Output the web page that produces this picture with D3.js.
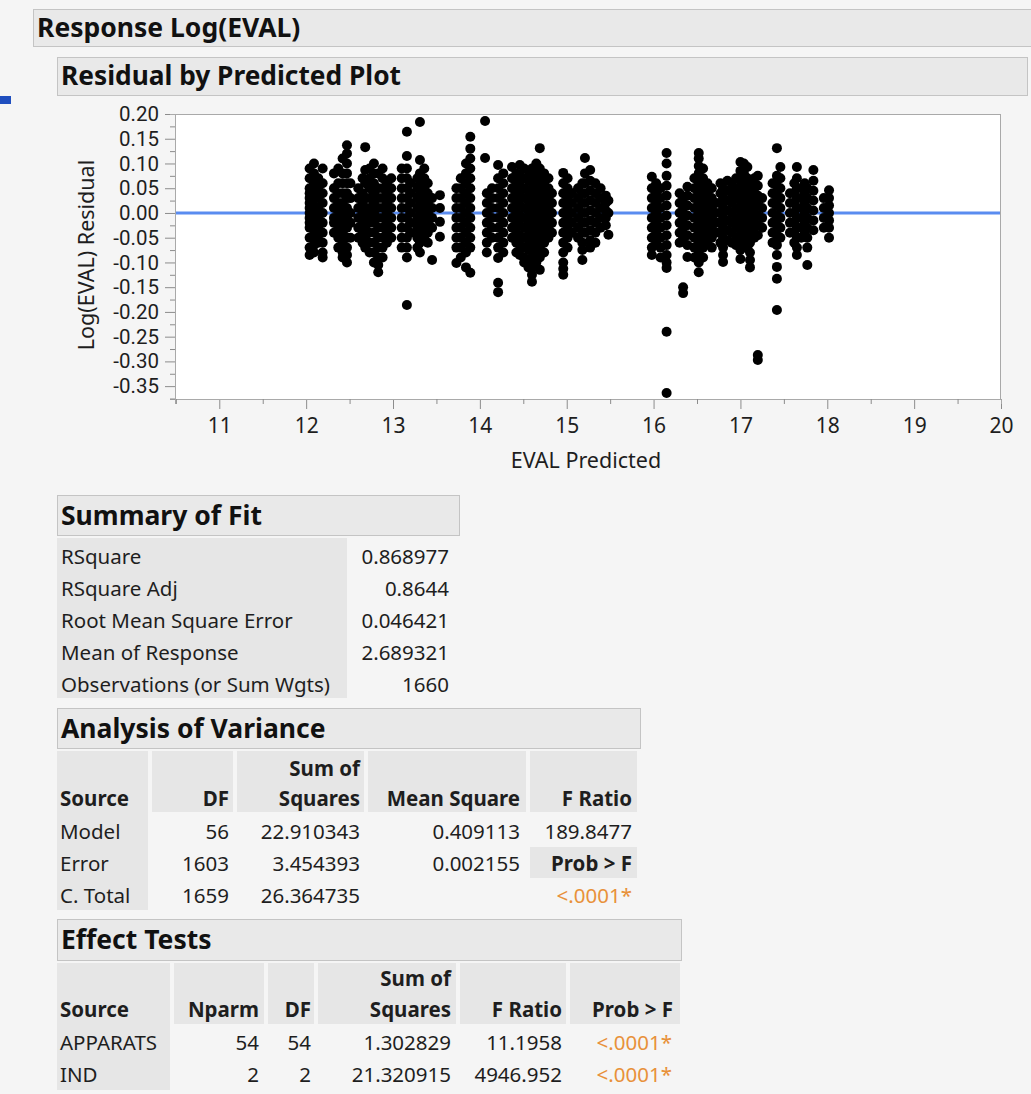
<!DOCTYPE html>
<html>
<head>
<meta charset="utf-8">
<script src="https://cdn.jsdelivr.net/npm/d3@7"></script>
<style>
  body { margin: 0; background: #f5f5f5; }
  svg { display: block; font-family: "Noto Sans", "Open Sans", sans-serif; }
</style>
</head>
<body>
<div id="report"></div>
<script>
// axis ticks
var xTicks = [11, 12, 13, 14, 15, 16, 17, 18, 19, 20];
var yTicks = [0.20, 0.15, 0.10, 0.05, 0.00, -0.05, -0.10, -0.15, -0.20, -0.25, -0.30, -0.35];

// residual strips: [predicted EVAL, residuals at that predicted value]
var strips = [
  [12.04, [.09,.07,.05,.04,.03,.02,.01,0,-.01,-.02,-.03,-.05,-.07,-.085]],
  [12.09, [.10,.08,.06,.045,.03,.015,.005,-.005,-.02,-.035,-.05,-.065,-.08]],
  [12.14, [.07,.05,.03,.01,-.01,-.03,-.045,-.06]],
  [12.19, [.09,.06,.04,.02,0,-.02,-.04,-.06,-.08,-.09]],
  [12.32, [.08,.05,.03,.01,-.01,-.02,-.04]],
  [12.37, [.09,.06,.04,.02,.005,-.01,-.03,-.05,-.07]],
  [12.42, [.11,.08,.06,.04,.02,0,-.02,-.04,-.06,-.08,-.09]],
  [12.47, [.137,.12,.10,.08,.06,.04,.03,.01,-.01,-.03,-.05,-.07,-.085,-.10]],
  [12.51, [.06,.03,0,-.02,-.05]],
  [12.60, [.05,.03,.01,-.01,-.03,-.05]],
  [12.65, [.07,.04,.02,0,-.02,-.04,-.06]],
  [12.68, [.133,.087,.06,.03,.01,-.01,-.03,-.05,-.07]],
  [12.73, [.09,.07,.05,.03,.01,-.005,-.02,-.04,-.06,-.08]],
  [12.78, [.10,.08,.06,.04,.02,0,-.02,-.04,-.06,-.08,-.10]],
  [12.83, [.08,.05,.03,.01,-.01,-.03,-.05,-.07,-.09,-.105,-.12]],
  [12.88, [.09,.07,.05,.03,.01,-.01,-.03,-.05,-.07,-.09]],
  [12.93, [.06,.04,.02,0,-.02,-.04,-.06]],
  [12.98, [.07,.05,.03,.01,-.01,-.03,-.05]],
  [13.10, [.09,.07,.05,.03,.01,-.01,-.03,-.05,-.07]],
  [13.16, [.164,.115,.09,.07,.05,.03,.01,-.01,-.03,-.05,-.07,-.09,-.186]],
  [13.20, [.06,.04,.02,0,-.02,-.04]],
  [13.28, [.07,.05,.03,.01,-.01,-.03,-.05,-.07]],
  [13.31, [.184,.107,.08,.06,.04,.02,0,-.02,-.04,-.06,-.08]],
  [13.36, [.09,.07,.05,.03,.01,-.01,-.03,-.05]],
  [13.40, [.06,.04,.02,0,-.02,-.04,-.06]],
  [13.45, [.03,.01,-.01,-.03,-.095]],
  [13.54, [.036,.01,-.018,-.048]],
  [13.73, [.05,.03,.01,-.01,-.03,-.05,-.07,-.101]],
  [13.78, [.07,.05,.03,.01,-.01,-.03,-.05,-.07,-.09]],
  [13.84, [.10,.08,.06,.04,.02,0,-.02,-.04,-.06,-.08,-.11]],
  [13.89, [.154,.13,.11,.09,.07,.05,.03,.01,-.01,-.03,-.05,-.07,-.121]],
  [14.06, [.186,.111]],
  [14.08, [.04,.02,0,-.02,-.04,-.06,-.08]],
  [14.14, [.05,.03,.01,-.01,-.03,-.05]],
  [14.21, [.097,.07,.05,.03,.01,-.01,-.03,-.05,-.07,-.091,-.141,-.16]],
  [14.27, [.08,.06,.04,.02,0,-.02,-.04,-.06,-.08]],
  [14.37, [.093,.07,.05,.03,.01,-.01,-.03,-.05]],
  [14.42, [.08,.06,.04,.02,0,-.02,-.04,-.06,-.08]],
  [14.46, [.097,.075,.055,.035,.015,-.005,-.025,-.045,-.065,-.085]],
  [14.51, [.09,.07,.05,.03,.01,-.01,-.03,-.05,-.07,-.09,-.10]],
  [14.56, [.085,.065,.045,.025,.005,-.015,-.035,-.055,-.075,-.095,-.11]],
  [14.60, [.09,.07,.05,.03,.01,-.01,-.03,-.05,-.07,-.09,-.11,-.125,-.139]],
  [14.65, [.10,.08,.06,.04,.02,0,-.02,-.04,-.06,-.08,-.10]],
  [14.69, [.131,.09,.07,.05,.03,.01,-.01,-.03,-.05,-.07,-.09,-.115]],
  [14.74, [.08,.06,.04,.02,0,-.02,-.04,-.06,-.08]],
  [14.79, [.07,.05,.03,.01,-.01,-.03,-.05]],
  [14.83, [.04,.02,0,-.02,-.04]],
  [14.96, [.081,.06,.04,.02,0,-.02,-.04,-.06,-.08,-.10,-.113,-.125]],
  [15.01, [.07,.05,.03,.01,-.01,-.03,-.05,-.07]],
  [15.06, [.04,.02,0,-.02,-.04]],
  [15.13, [.05,.03,.01,-.01,-.03,-.05]],
  [15.18, [.06,.04,.02,0,-.02,-.04,-.06,-.075,-.095]],
  [15.21, [.111,.08,.06,.04,.02,0,-.02,-.04]],
  [15.27, [.087,.065,.045,.025,.005,-.015,-.035,-.055,-.07]],
  [15.33, [.06,.04,.02,0,-.02,-.04,-.06]],
  [15.39, [.05,.03,.01,-.01,-.03]],
  [15.45, [.035,.02,.005,-.01,-.025]],
  [15.48, [.025,0,-.044]],
  [15.98, [.073,.05,.03,.01,-.01,-.03,-.05,-.07,-.085]],
  [16.03, [.06,.04,.02,0,-.02,-.04,-.06]],
  [16.08, [.05,.03,.01,-.01,-.03,-.05,-.07,-.09]],
  [16.15, [.121,.10,.075,.055,.035,.015,-.005,-.025,-.045,-.065,-.085,-.10,-.111,-.24,-.364]],
  [16.30, [.04,.02,0,-.02,-.04,-.06]],
  [16.34, [.03,.01,-.01,-.03,-.05,-.15,-.162]],
  [16.39, [.053,.035,.015,-.005,-.025,-.045,-.065,-.089]],
  [16.47, [.07,.05,.03,.01,-.01,-.03,-.05,-.07,-.09]],
  [16.52, [.121,.11,.095,.08,.06,.04,.02,0,-.02,-.04,-.06,-.08,-.10,-.12]],
  [16.57, [.09,.07,.05,.03,.01,-.01,-.03,-.05,-.07,-.09]],
  [16.62, [.06,.04,.02,0,-.02,-.04,-.06]],
  [16.67, [.05,.03,.01,-.01,-.03,-.05,-.07]],
  [16.72, [.02,0,-.02,-.04]],
  [16.77, [.06,.04,.02,0,-.02,-.04,-.06]],
  [16.80, [.05,.03,.01,-.01,-.03,-.05,-.07,-.085,-.099]],
  [16.85, [.065,.045,.025,.005,-.015,-.035,-.055]],
  [16.90, [.06,.04,.02,0,-.02,-.04,-.06]],
  [16.95, [.07,.05,.03,.01,-.01,-.03,-.05,-.065]],
  [17.00, [.103,.085,.065,.045,.025,.005,-.015,-.035,-.055,-.075,-.093]],
  [17.04, [.10,.08,.06,.04,.02,0,-.02,-.04,-.06]],
  [17.08, [.093,.07,.05,.03,.01,-.01,-.03,-.05,-.07]],
  [17.11, [.06,.04,.02,0,-.02,-.04,-.06,-.08,-.095,-.11]],
  [17.16, [.07,.05,.03,.01,-.01,-.03,-.05]],
  [17.20, [.075,.055,.035,.015,-.005,-.025,-.045,-.287,-.297]],
  [17.25, [.03,.01,-.01,-.03]],
  [17.37, [.06,.04,.02,0,-.02,-.04,-.06]],
  [17.42, [.131,.075,.055,.035,.015,-.005,-.025,-.045,-.065,-.085,-.109,-.133,-.196]],
  [17.46, [.093,.07,.05,.03,.01,-.01,-.03,-.05]],
  [17.57, [.04,.02,0,-.02,-.04]],
  [17.62, [.06,.04,.02,0,-.02,-.04,-.06]],
  [17.65, [.093,.07,.05,.03,.01,-.01,-.03,-.05,-.07,-.085]],
  [17.70, [.05,.03,.01,-.01,-.03,-.05]],
  [17.74, [.06,.04,.02,0,-.02,-.04]],
  [17.77, [.05,.03,.01,-.01,-.03,-.05,-.07,-.105]],
  [17.84, [.087,.065,.045,.025,.005,-.015,-.035]],
  [17.96, [.03,.01,-.01,-.03]],
  [18.02, [.046,.03,.015,0,-.015,-.03,-.05]]
];

// Summary of Fit
var summaryLabels = ["RSquare", "RSquare Adj", "Root Mean Square Error", "Mean of Response", "Observations (or Sum Wgts)"];
var summaryValues = ["0.868977", "0.8644", "0.046421", "2.689321", "1660"];

// Analysis of Variance
var anovaSources = ["Model", "Error", "C. Total"];
var anovaDF = ["56", "1603", "1659"];
var anovaSS = ["22.910343", "3.454393", "26.364735"];
var anovaMS = ["0.409113", "0.002155", ""];
var anovaF = ["189.8477", "Prob > F", "<.0001*"];

// Effect Tests
var effectSources = ["APPARATS", "IND"];
var effectNparm = ["54", "2"];
var effectDF = ["54", "2"];
var effectSS = ["1.302829", "21.320915"];
var effectF = ["11.1958", "4946.952"];
var effectP = ["<.0001*", "<.0001*"];

var W = 1031, H = 1094;
var svg = d3.select("#report").append("svg")
  .attr("width", W).attr("height", H);

svg.append("rect").attr("width", W).attr("height", H).attr("fill", "#f5f5f5");

var ink = "#1e1e1e", cellFill = "#e6e6e6", orange = "#e8913a";
var bodySize = 20.5, headSize = 20.5;

function header(x, y, w, h, label, size) {
  svg.append("rect")
    .attr("x", x + 0.5).attr("y", y + 0.5).attr("width", w).attr("height", h)
    .attr("fill", "#e9e9e9").attr("stroke", "#c4c4c4");
  svg.append("text")
    .attr("x", x + 4).attr("y", y + h / 2)
    .attr("dy", "0.36em")
    .attr("font-size", size).attr("font-weight", "bold").attr("fill", "#111")
    .text(label);
}

function txt(x, y, s, opts) {
  opts = opts || {};
  return svg.append("text")
    .attr("x", x).attr("y", y)
    .attr("text-anchor", opts.anchor || "start")
    .attr("font-size", opts.size || bodySize)
    .attr("font-weight", opts.bold ? "bold" : "normal")
    .attr("fill", opts.color || ink)
    .text(s);
}

header(33, 9, 1010, 37, "Response Log(EVAL)", 26.5);
header(57, 57, 970, 38, "Residual by Predicted Plot", 26.3);
svg.append("rect").attr("x", 0).attr("y", 96).attr("width", 11).attr("height", 8).attr("fill", "#1f4fbf");

// ---- residual plot ----
var pl = 175, pr = 1001, pt = 114, pb = 399;
var x = d3.scaleLinear().domain([10.49, 20.0]).range([pl, pr]);
var y = d3.scaleLinear().domain([-0.376, 0.20]).range([pb, pt]);

svg.append("rect")
  .attr("x", pl).attr("y", pt).attr("width", pr - pl).attr("height", pb - pt)
  .attr("fill", "#fff");

// zero line
svg.append("line")
  .attr("x1", pl).attr("x2", pr).attr("y1", y(0)).attr("y2", y(0))
  .attr("stroke", "#5a8cf0").attr("stroke-width", 3);

var pts = [];
strips.forEach(function(s) {
  s[1].forEach(function(r) { pts.push({p: s[0], r: r}); });
});

svg.append("g")
  .selectAll("circle")
  .data(pts)
  .enter()
  .append("circle")
    .attr("cx", function(d) { return x(d.p); })
    .attr("cy", function(d) { return y(d.r); })
    .attr("r", 5)
    .attr("fill", "#000");

svg.append("rect")
  .attr("x", pl + 0.5).attr("y", pt + 0.5).attr("width", pr - pl - 1).attr("height", pb - pt)
  .attr("fill", "none").attr("stroke", "#a9a9a9");

var f2 = d3.format(".2f");

// y axis
var yAxis = svg.append("g")
  .attr("transform", "translate(" + pl + ",0)")
  .call(d3.axisLeft(y).tickValues(yTicks).tickSize(10).tickSizeOuter(0)
    .tickFormat(function(d) { return f2(d).replace("\u2212", "-"); }));
svg.append("g")
  .attr("transform", "translate(" + pl + ",0)")
  .call(d3.axisLeft(y).tickValues(d3.range(-0.375, 0.2, 0.05)).tickSize(5).tickFormat(""));

// x axis
var xAxis = svg.append("g")
  .attr("transform", "translate(0," + pb + ")")
  .call(d3.axisBottom(x).tickValues(xTicks).tickSize(10).tickSizeOuter(0)
    .tickFormat(d3.format("d")));
svg.append("g")
  .attr("transform", "translate(0," + pb + ")")
  .call(d3.axisBottom(x).tickValues(d3.range(10.5, 20, 1)).tickSize(5).tickFormat(""));

svg.selectAll(".domain").attr("stroke", "#a9a9a9");
svg.selectAll(".tick line").attr("stroke", "#8c8c8c");
yAxis.selectAll("text").attr("font-size", 20.5).attr("fill", ink).attr("x", -16)
  .attr("font-family", "Roboto, sans-serif");
xAxis.selectAll("text").attr("font-size", 21).attr("fill", ink).attr("y", 19)
  .attr("font-family", "Noto Sans, sans-serif");

txt(586, 468, "EVAL Predicted", {anchor: "middle", size: 21.5});
svg.append("text")
  .attr("transform", "translate(94,255) rotate(-90)")
  .attr("text-anchor", "middle")
  .attr("font-size", 21.5).attr("fill", ink)
  .text("Log(EVAL) Residual");

// ---- Summary of Fit ----
header(57, 495, 402, 40, "Summary of Fit", 26.5);
svg.append("rect").attr("x", 57).attr("y", 538).attr("width", 290).attr("height", 160).attr("fill", cellFill);
summaryLabels.forEach(function(l, i) {
  txt(61, 564 + i * 32, l);
  txt(449, 564 + i * 32, summaryValues[i], {anchor: "end"});
});

// ---- Analysis of Variance ----
header(57, 708, 583, 40, "Analysis of Variance", 26.5);
var aCols = [[57, 148], [152, 233], [237, 364], [368, 526], [530, 637]];
aCols.forEach(function(c) {
  svg.append("rect").attr("x", c[0]).attr("y", 751).attr("width", c[1] - c[0]).attr("height", 61).attr("fill", cellFill);
});
svg.append("rect").attr("x", 57).attr("y", 812).attr("width", 91).attr("height", 98).attr("fill", cellFill);
svg.append("rect").attr("x", 530).attr("y", 847).attr("width", 107).attr("height", 31).attr("fill", cellFill);
txt(60, 806, "Source", {bold: true, size: headSize});
txt(229, 806, "DF", {bold: true, size: headSize, anchor: "end"});
txt(360, 776, "Sum of", {bold: true, size: headSize, anchor: "end"});
txt(360, 806, "Squares", {bold: true, size: headSize, anchor: "end"});
txt(520, 806, "Mean Square", {bold: true, size: headSize, anchor: "end"});
txt(632, 806, "F Ratio", {bold: true, size: headSize, anchor: "end"});
anovaSources.forEach(function(s, i) {
  var by = 839 + i * 32;
  txt(60, by, s);
  txt(229, by, anovaDF[i], {anchor: "end"});
  txt(360, by, anovaSS[i], {anchor: "end"});
  txt(520, by, anovaMS[i], {anchor: "end"});
  var f = anovaF[i];
  txt(632, by, f, {anchor: "end", bold: f === "Prob > F", size: f === "Prob > F" ? headSize : bodySize,
    color: f.charAt(0) === "<" ? orange : ink});
});

// ---- Effect Tests ----
header(57, 919, 624, 41, "Effect Tests", 26.5);
var eCols = [[57, 170], [174, 264], [268, 314], [318, 456], [460, 566], [570, 680]];
eCols.forEach(function(c) {
  svg.append("rect").attr("x", c[0]).attr("y", 963).attr("width", c[1] - c[0]).attr("height", 61).attr("fill", cellFill);
});
svg.append("rect").attr("x", 57).attr("y", 1024).attr("width", 113).attr("height", 66).attr("fill", cellFill);
txt(60, 1017, "Source", {bold: true, size: headSize});
txt(259, 1017, "Nparm", {bold: true, size: headSize, anchor: "end"});
txt(311, 1017, "DF", {bold: true, size: headSize, anchor: "end"});
txt(451, 986, "Sum of", {bold: true, size: headSize, anchor: "end"});
txt(451, 1017, "Squares", {bold: true, size: headSize, anchor: "end"});
txt(562, 1017, "F Ratio", {bold: true, size: headSize, anchor: "end"});
txt(673, 1017, "Prob > F", {bold: true, size: headSize, anchor: "end"});
effectSources.forEach(function(s, i) {
  var by = 1050 + i * 32;
  txt(60, by, s);
  txt(259, by, effectNparm[i], {anchor: "end"});
  txt(311, by, effectDF[i], {anchor: "end"});
  txt(451, by, effectSS[i], {anchor: "end"});
  txt(562, by, effectF[i], {anchor: "end"});
  txt(672, by, effectP[i], {anchor: "end", color: orange});
});
</script>
</body>
</html>
